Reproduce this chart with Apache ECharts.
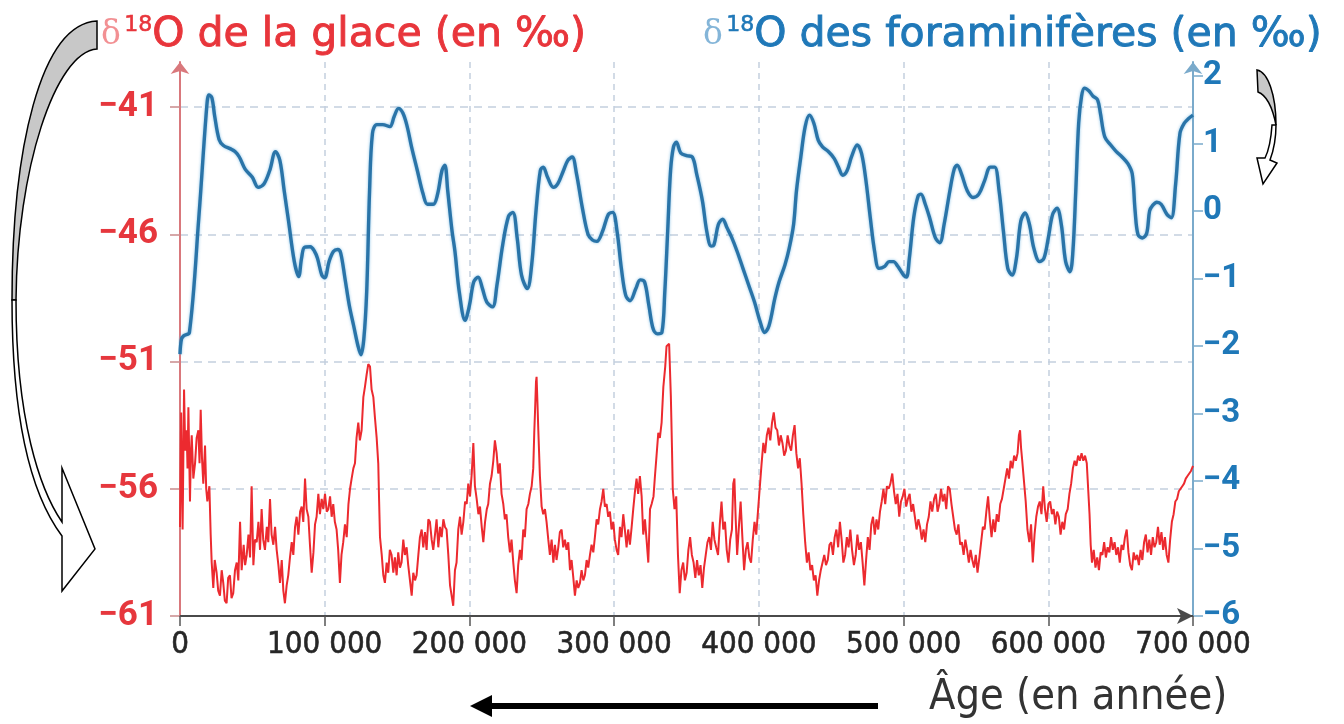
<!DOCTYPE html>
<html><head><meta charset="utf-8">
<script src="https://cdn.jsdelivr.net/npm/echarts@6/dist/echarts.min.js"></script>
<style>html,body{margin:0;padding:0;background:#fff}#c{width:1344px;height:724px}</style>
</head><body><div id="c"></div><script>
// ---- ticks ----
const ageTicks = [0, 100000, 200000, 300000, 400000, 500000, 600000, 700000];
const iceTicks = [-61, -56, -51, -46, -41];
const foramTicks = [-6, -5, -4, -3, -2, -1, 0, 1, 2];

// ---- δ18O of foraminifera (age in kyr, ‰) ----
const foramRecord = [[0,-2.12],[1,-1.9],[2.5,-1.85],[6.5,-1.8],[13,-0.1],[18.5,1.55],[20,1.72],[22,1.68],[24,1.4],[27,1.06],[30,0.97],[35,0.92],[38,0.88],[41,0.8],[45,0.62],[50,0.5],[54,0.35],[58,0.4],[62,0.6],[66,0.88],[69,0.75],[72,0.3],[75,-0.15],[79,-0.75],[82,-0.97],[84,-0.7],[86,-0.54],[90,-0.53],[93,-0.6],[95,-0.7],[98,-0.95],[100,-0.99],[103,-0.75],[106,-0.6],[109,-0.57],[111,-0.62],[114,-1.0],[117,-1.4],[120,-1.7],[123,-2.0],[125,-2.13],[127,-1.9],[129,-1.2],[131,0.3],[133,1.15],[136,1.28],[140,1.28],[145,1.25],[148,1.4],[151,1.52],[154,1.45],[157,1.25],[160,0.95],[164,0.6],[168,0.25],[171,0.1],[175,0.1],[178,0.25],[181,0.6],[183,0.68],[185,0.3],[188,-0.3],[190,-0.6],[193,-1.2],[197,-1.62],[200,-1.4],[203,-1.05],[206,-0.98],[209,-1.15],[212,-1.35],[216,-1.42],[219,-1.1],[223,-0.5],[227,-0.08],[230,-0.02],[233,-0.4],[236,-0.95],[240,-1.15],[243,-0.8],[246,0.0],[249,0.6],[251,0.65],[254,0.5],[258,0.35],[261,0.4],[265,0.6],[268,0.75],[271,0.8],[274,0.55],[278,0.05],[282,-0.35],[285,-0.43],[288,-0.45],[292,-0.3],[296,-0.05],[299,-0.02],[302,-0.3],[305,-0.85],[308,-1.25],[311,-1.33],[315,-1.15],[318,-1.02],[321,-1.05],[324,-1.4],[327,-1.75],[330,-1.82],[333,-1.8],[335,-1.2],[337,-0.3],[339,0.6],[341,0.95],[343,1.02],[346,0.86],[350,0.82],[354,0.8],[357,0.55],[361,0.15],[364,-0.3],[367,-0.52],[369,-0.5],[372,-0.2],[375,-0.12],[378,-0.25],[381,-0.38],[385,-0.6],[389,-0.85],[393,-1.1],[397,-1.35],[401,-1.65],[404,-1.8],[407,-1.7],[411,-1.3],[414,-1.05],[418,-0.8],[421,-0.55],[424,-0.2],[426,0.3],[429,0.8],[432,1.25],[435,1.42],[438,1.3],[441,1.05],[444,0.95],[448,0.88],[452,0.78],[455,0.65],[458,0.53],[461,0.6],[464,0.8],[468,0.98],[471,0.85],[474,0.45],[477,-0.1],[480,-0.6],[483,-0.85],[487,-0.82],[490,-0.75],[493,-0.75],[496,-0.82],[500,-0.95],[502,-0.98],[504,-0.7],[507,-0.1],[510,0.22],[512,0.25],[515,0.1],[518,-0.1],[522,-0.4],[525,-0.47],[528,-0.2],[532,0.3],[535,0.62],[537,0.68],[540,0.55],[544,0.3],[548,0.2],[552,0.25],[556,0.45],[560,0.65],[563,0.65],[566,0.3],[569,-0.3],[572,-0.85],[575,-0.95],[578,-0.7],[581,-0.15],[584,-0.03],[587,-0.2],[590,-0.55],[594,-0.75],[597,-0.7],[600,-0.4],[603,-0.05],[606,0.04],[609,-0.2],[612,-0.75],[615,-0.9],[617,-0.6],[619,0.3],[621,1.3],[623,1.7],[625,1.82],[628,1.78],[631,1.7],[634,1.65],[636,1.45],[639,1.1],[643,0.98],[647,0.88],[651,0.8],[655,0.7],[658,0.55],[660,0.0],[662,-0.35],[665,-0.4],[668,-0.33],[670,0.0],[672,0.08],[675,0.13],[678,0.1],[682,-0.05],[685,-0.1],[688,0.4],[691,1.15],[694,1.3],[697,1.37],[700,1.42]];

// ---- δ18O of ice (age in kyr, ‰) ----
const iceRecord = [[0,-57.5],[0.8,-53.0],[1.8,-57.6],[2.8,-52.1],[3.6,-54.5],[4.6,-53.7],[5.2,-55.2],[5.8,-52.8],[6.9,-56.5],[7.5,-54.6],[8.1,-53.9],[9.2,-55.6],[10.4,-55.0],[11.5,-54.0],[12.7,-53.7],[13.5,-55.0],[14.3,-52.9],[15.2,-54.8],[16.1,-55.8],[17.3,-54.3],[18.1,-56.0],[18.9,-56.5],[20.3,-55.9],[21.2,-57.8],[21.9,-58.9],[23.0,-59.9],[24.0,-58.8],[25.3,-59.3],[26.4,-60.0],[27.6,-60.2],[28.8,-59.2],[29.9,-59.7],[31.0,-60.4],[32.2,-60.5],[33.3,-59.5],[34.5,-59.4],[35.6,-60.3],[36.8,-60.1],[38.0,-59.2],[39.2,-58.9],[40.3,-59.6],[41.5,-57.3],[42.6,-59.2],[44.0,-58.2],[45.0,-59.0],[46.1,-58.6],[47.3,-57.8],[48.4,-58.7],[49.5,-55.9],[50.7,-59.0],[51.8,-58.0],[53.0,-58.1],[54.2,-57.3],[55.3,-58.4],[56.4,-56.8],[57.5,-58.0],[58.7,-58.4],[60.0,-57.5],[61.0,-58.1],[62.2,-56.4],[63.3,-57.8],[64.5,-58.2],[65.7,-57.5],[66.8,-58.4],[68.0,-59.0],[69.1,-59.7],[70.3,-58.8],[71.4,-60.0],[72.5,-60.5],[73.7,-59.8],[74.8,-59.4],[76.0,-58.7],[77.2,-58.1],[78.3,-58.6],[79.5,-57.5],[80.6,-57.1],[81.8,-57.8],[83.0,-56.9],[84.1,-56.7],[85.2,-57.3],[86.4,-55.6],[87.5,-56.8],[88.7,-57.1],[89.8,-58.2],[91.0,-59.3],[92.2,-58.5],[93.3,-57.4],[94.4,-57.1],[95.6,-56.2],[96.7,-57.0],[97.9,-56.4],[99.0,-56.8],[100.2,-56.2],[101.4,-56.9],[102.5,-56.8],[103.7,-56.3],[104.8,-57.1],[105.9,-56.6],[107.0,-57.3],[108.2,-57.6],[109.3,-58.4],[110.5,-59.7],[111.6,-58.6],[112.8,-58.1],[114.0,-57.4],[115.2,-57.9],[116.4,-56.6],[117.5,-56.0],[118.6,-55.6],[119.8,-55.2],[120.9,-55.0],[122.0,-54.0],[123.2,-53.4],[124.3,-54.1],[125.5,-53.7],[126.7,-52.4],[127.8,-52.0],[129.0,-51.5],[130.1,-51.1],[131.3,-51.2],[132.4,-52.1],[133.6,-52.4],[134.7,-53.2],[135.9,-54.0],[137.0,-55.0],[137.6,-56.5],[138.2,-57.9],[139.4,-58.6],[140.5,-59.4],[141.6,-59.7],[142.8,-58.9],[143.9,-59.3],[145.0,-58.4],[146.2,-58.6],[147.4,-59.3],[148.5,-58.7],[149.7,-59.4],[150.8,-58.5],[152.0,-59.1],[153.1,-58.9],[154.3,-58.0],[155.4,-58.6],[156.6,-58.3],[157.7,-59.0],[158.9,-59.6],[160.1,-60.2],[161.2,-59.3],[162.4,-59.6],[163.5,-59.4],[164.7,-58.6],[165.8,-57.9],[167.0,-57.6],[168.1,-58.3],[169.3,-57.7],[170.4,-58.4],[171.6,-57.2],[172.7,-57.3],[173.9,-58.0],[175.0,-58.4],[176.2,-57.8],[177.3,-57.2],[178.5,-58.3],[179.7,-57.5],[180.8,-57.9],[182.0,-57.2],[183.1,-57.5],[184.2,-57.6],[185.4,-58.6],[186.6,-59.8],[187.7,-60.2],[188.8,-60.6],[190.0,-59.2],[191.1,-58.9],[192.3,-57.6],[193.5,-57.1],[194.6,-57.8],[195.8,-57.3],[197.0,-56.5],[198.1,-56.6],[199.2,-55.8],[200.4,-56.3],[201.6,-55.4],[202.7,-54.2],[203.8,-55.9],[205.0,-56.4],[206.2,-57.0],[207.3,-56.7],[208.5,-57.5],[209.6,-58.1],[210.8,-57.3],[212.0,-56.8],[213.0,-56.6],[214.2,-55.8],[215.3,-55.5],[216.5,-54.9],[217.6,-54.1],[218.8,-54.6],[219.9,-55.4],[221.0,-55.0],[222.2,-56.2],[223.4,-56.6],[224.5,-57.2],[225.6,-57.0],[226.8,-57.9],[228.0,-58.5],[229.1,-58.0],[230.3,-58.9],[231.4,-59.6],[232.6,-60.1],[233.7,-59.0],[234.9,-58.4],[236.0,-58.8],[237.2,-57.6],[238.3,-57.9],[239.5,-56.8],[240.7,-56.6],[241.8,-56.2],[243.0,-55.9],[244.1,-55.2],[244.8,-53.8],[245.3,-53.0],[246.0,-51.8],[246.4,-51.6],[247.0,-52.6],[247.6,-53.7],[248.7,-55.5],[249.9,-56.7],[251.0,-57.0],[252.2,-56.8],[253.3,-57.3],[254.5,-58.0],[255.6,-58.6],[256.8,-58.0],[258.0,-58.9],[259.1,-58.2],[260.2,-58.8],[261.4,-58.3],[262.5,-57.7],[263.7,-57.6],[264.8,-58.3],[266.0,-58.0],[267.1,-58.4],[268.3,-58.1],[269.5,-59.2],[270.6,-58.8],[271.8,-59.5],[272.9,-60.2],[274.1,-59.6],[275.2,-59.9],[276.4,-59.7],[277.5,-59.2],[278.7,-59.6],[279.8,-59.4],[281.0,-58.8],[282.1,-59.1],[283.3,-58.6],[284.4,-58.2],[285.6,-58.5],[286.7,-57.9],[287.9,-57.2],[289.0,-57.4],[290.2,-56.8],[291.3,-56.5],[292.5,-56.0],[293.6,-56.7],[294.8,-56.6],[295.9,-57.1],[297.1,-56.9],[298.2,-57.6],[299.4,-57.3],[300.5,-58.0],[301.7,-58.4],[302.8,-58.6],[304.0,-57.5],[305.1,-57.9],[306.3,-57.0],[307.4,-57.6],[308.6,-58.3],[309.7,-57.6],[310.9,-58.2],[312.1,-57.5],[313.2,-56.8],[314.4,-56.1],[315.5,-55.6],[316.6,-56.2],[317.8,-55.5],[319.0,-56.3],[320.1,-57.8],[321.3,-57.2],[322.4,-58.0],[323.6,-58.9],[324.8,-56.8],[325.9,-56.6],[327.2,-56.3],[328.2,-55.5],[329.3,-54.7],[330.5,-53.8],[331.6,-54.0],[332.8,-53.4],[334.0,-52.0],[335.3,-51.2],[336.2,-50.4],[338.0,-50.3],[339.2,-52.4],[340.0,-54.5],[340.5,-56.0],[341.7,-56.8],[342.9,-56.3],[344.1,-58.6],[345.3,-60.1],[346.5,-59.2],[347.7,-58.9],[348.9,-59.6],[350.1,-59.3],[351.3,-58.4],[352.5,-57.9],[353.7,-58.6],[354.9,-58.9],[356.1,-59.5],[357.3,-58.8],[358.5,-59.4],[359.7,-59.0],[360.9,-59.9],[362.1,-59.1],[363.3,-58.6],[364.5,-58.1],[365.7,-57.9],[366.9,-58.4],[368.1,-57.3],[369.3,-58.0],[370.5,-58.3],[371.8,-58.6],[373.0,-57.4],[374.2,-56.5],[375.4,-57.6],[376.6,-57.3],[377.8,-58.4],[379.0,-58.9],[380.2,-58.0],[381.4,-57.6],[382.3,-55.8],[383.1,-55.6],[384.0,-57.2],[385.0,-58.6],[386.2,-57.5],[387.4,-56.5],[388.6,-57.9],[389.8,-59.2],[391.0,-58.4],[392.2,-58.1],[393.4,-58.7],[394.6,-58.9],[395.8,-58.0],[397.0,-57.3],[398.2,-57.8],[399.5,-56.8],[400.7,-55.9],[401.9,-55.0],[403.1,-54.2],[404.3,-54.6],[405.5,-53.9],[406.7,-53.6],[407.9,-54.1],[409.1,-53.4],[410.3,-53.0],[411.5,-53.6],[412.7,-53.7],[413.9,-54.3],[415.1,-53.9],[416.3,-54.2],[417.5,-54.7],[418.7,-54.5],[419.9,-53.9],[421.1,-54.3],[422.3,-54.5],[423.5,-53.9],[424.7,-53.5],[425.9,-54.6],[427.1,-55.2],[428.3,-54.8],[429.5,-55.8],[430.7,-57.0],[432.0,-58.1],[433.2,-58.9],[434.4,-58.5],[435.6,-59.2],[436.8,-59.0],[438.0,-59.6],[439.2,-59.4],[440.4,-60.2],[441.6,-59.6],[442.8,-59.2],[444.0,-59.2],[445.2,-58.6],[446.4,-59.0],[447.6,-58.8],[448.8,-58.2],[450.0,-58.1],[451.2,-58.6],[452.4,-57.9],[453.6,-57.6],[454.8,-58.3],[456.0,-57.3],[457.2,-58.0],[458.4,-58.9],[459.6,-58.6],[460.8,-57.9],[462.0,-58.3],[463.2,-57.6],[464.4,-58.4],[465.7,-59.0],[466.9,-58.6],[468.1,-57.8],[469.3,-58.4],[470.5,-58.1],[471.7,-58.9],[472.9,-59.8],[474.1,-58.8],[475.3,-57.9],[476.5,-58.4],[477.7,-57.4],[478.9,-57.1],[480.1,-57.8],[481.3,-57.2],[482.5,-57.6],[483.7,-56.9],[484.9,-56.5],[486.1,-56.0],[487.3,-56.6],[488.5,-55.9],[489.7,-56.0],[490.9,-55.8],[492.2,-55.4],[493.4,-56.1],[494.6,-56.6],[495.8,-56.2],[497.0,-57.1],[498.2,-56.5],[499.4,-56.3],[500.6,-56.0],[501.8,-56.7],[503.0,-56.4],[504.2,-56.2],[505.4,-56.9],[506.6,-56.6],[507.8,-57.1],[509.0,-57.6],[510.2,-57.2],[511.4,-57.5],[512.6,-58.0],[513.8,-57.6],[515.0,-58.1],[516.2,-57.4],[517.4,-57.1],[518.6,-56.5],[519.8,-56.9],[521.1,-56.4],[522.3,-56.2],[523.5,-56.9],[524.7,-56.6],[525.9,-56.0],[527.1,-56.5],[528.3,-56.2],[529.5,-56.8],[530.7,-55.9],[531.9,-56.0],[533.1,-56.6],[534.3,-57.1],[535.5,-57.6],[536.7,-57.8],[537.9,-57.4],[539.1,-58.2],[540.3,-58.1],[541.5,-58.6],[542.7,-58.0],[543.9,-58.4],[545.1,-58.9],[546.3,-58.4],[547.5,-58.8],[548.7,-59.1],[549.9,-58.6],[551.1,-59.3],[552.4,-58.7],[553.6,-58.1],[554.8,-57.5],[556.0,-57.6],[557.2,-56.9],[558.4,-56.3],[559.6,-57.2],[560.8,-57.9],[562.0,-57.2],[563.2,-57.7],[564.4,-57.0],[565.6,-57.3],[566.8,-56.6],[568.0,-56.4],[569.2,-56.0],[570.4,-55.6],[571.6,-55.2],[572.8,-55.6],[574.0,-54.9],[575.2,-55.2],[576.4,-54.7],[577.6,-54.9],[578.8,-54.6],[579.7,-53.9],[580.5,-53.7],[581.2,-54.4],[582.0,-54.9],[583.2,-55.7],[584.4,-56.5],[585.6,-57.6],[586.9,-58.1],[588.1,-57.4],[589.3,-58.9],[590.5,-57.8],[591.7,-57.1],[592.9,-56.7],[594.1,-56.5],[595.3,-57.0],[596.5,-55.9],[597.7,-56.8],[598.9,-57.3],[600.1,-56.6],[601.3,-56.5],[602.5,-57.0],[603.7,-56.8],[604.9,-57.4],[606.1,-56.9],[607.3,-57.1],[608.5,-57.8],[609.7,-57.3],[610.9,-57.6],[612.1,-57.0],[613.4,-56.8],[614.6,-56.2],[615.8,-55.8],[617.0,-55.2],[618.2,-54.9],[619.4,-55.1],[620.6,-54.7],[621.8,-54.9],[623.0,-54.6],[624.2,-54.9],[625.4,-54.7],[626.6,-55.0],[627.8,-55.0],[628.5,-57.0],[629.3,-58.2],[630.2,-58.9],[631.4,-58.4],[632.6,-59.1],[633.8,-58.7],[635.0,-59.2],[636.2,-58.5],[637.4,-58.6],[638.6,-58.1],[639.8,-58.7],[641.0,-58.3],[642.2,-58.5],[643.4,-57.9],[644.6,-58.4],[645.8,-58.1],[647.0,-58.6],[648.2,-58.3],[649.4,-58.9],[650.6,-58.2],[651.8,-58.4],[653.0,-57.9],[654.2,-57.6],[655.4,-58.5],[656.6,-59.0],[657.8,-59.2],[659.0,-58.5],[660.2,-58.8],[661.4,-58.6],[662.6,-59.0],[663.8,-58.4],[665.0,-58.8],[666.2,-58.1],[667.4,-57.8],[668.6,-58.5],[669.8,-58.0],[671.0,-58.6],[672.2,-57.9],[673.4,-58.3],[674.6,-58.1],[675.8,-57.5],[677.0,-58.2],[678.2,-57.7],[679.4,-58.4],[680.6,-57.9],[681.8,-58.6],[683.0,-58.9],[684.2,-58.0],[685.4,-57.3],[686.6,-57.0],[687.8,-56.5],[689.0,-56.4],[690.2,-56.1],[691.4,-56.0],[692.6,-55.9],[693.8,-55.8],[695.0,-55.6],[696.2,-55.5],[697.4,-55.4],[698.6,-55.3],[700.0,-55.1]];

// ---- texts ----
const iceTitle = 'O de la glace (en ‰)';
const foramTitle = 'O des foraminifères (en ‰)';
const ageTitle = 'Âge (en année)';

const narrowFont = '"DejaVu Sans Condensed", sans-serif';
const fmtSigned = v => String(v).replace('-', '\u2212');
const fmtAge = v => v === 0 ? '0' : (v / 1000) + ' 000';
const toYears = rec => rec.map(([a, v]) => [a * 1000, v]);

// decorative curved arrows (annotations, not data)
const G = echarts.graphic;
G.registerShape('arrowLeftBack', G.extendPath('M97,21 C40,24 12,150 12,300 L16,300 C17,170 55,52 97,49 Z'));
G.registerShape('arrowLeftFront', G.extendPath('M12,300 C12,430 35,500 62,536 L62,591 L95,549 L62,468 L62,522 C40,490 16,420 16,300 Z'));
G.registerShape('arrowRightBack', G.extendPath('M1257,70 C1268,72 1276,95 1276,125 C1272,105 1266,95 1258,92 Z'));
G.registerShape('arrowRightFront', G.extendPath('M1276,125 C1276,140 1273,152 1270,160 L1277,163 L1263,184 L1257,158 L1265,158 C1269,150 1271,140 1272,125 Z'));

const titleRich = (color) => ({
  d: { fontFamily: 'DejaVu Serif', fontSize: 33, fill: color, opacity: 0.55 },
  s: { fontFamily: 'DejaVu Sans', fontSize: 22, fill: color, stroke: color, lineWidth: 0.6, verticalAlign: 'top' },
  t: { fontFamily: 'DejaVu Sans', fontSize: 41, fill: color, stroke: color, lineWidth: 0.9 }
});

const chart = echarts.init(document.getElementById('c'));
chart.setOption({
  animation: false,
  backgroundColor: '#fff',
  grid: { left: 180, right: 151, top: 62, bottom: 108 },
  xAxis: {
    type: 'value', min: 0, max: 700000, interval: 100000,
    axisLine: { show: true, onZero: false, lineStyle: { color: '#4a4a4a', width: 2 }, symbol: ['none', 'arrow'], symbolSize: [12, 16] },
    axisTick: { show: true, length: 10, lineStyle: { color: '#555', width: 1.5 } },
    axisLabel: { formatter: fmtAge, color: '#262626', fontSize: 31, fontFamily: narrowFont, margin: 13, textBorderColor: '#262626', textBorderWidth: 0.6 },
    splitLine: { show: true, lineStyle: { type: [6, 5], color: '#c3d0de', width: 1.5 } }
  },
  yAxis: [
    {
      type: 'value', position: 'left', min: -61, max: -39.23,
      axisLine: { show: true, onZero: false, lineStyle: { color: '#d9787c', width: 2 }, symbol: ['none', 'arrow'], symbolSize: [14, 12] },
      axisTick: { show: true, customValues: iceTicks, length: 10, lineStyle: { color: '#c98a8c', width: 1.5 } },
      axisLabel: { customValues: iceTicks, formatter: fmtSigned, color: '#e6373d', fontSize: 35, fontWeight: 'bold', fontFamily: 'Roboto', margin: 22 },
      splitLine: { show: true, lineStyle: { type: [8, 6], color: '#c3d0de', width: 1.5 } }
    },
    {
      type: 'value', position: 'right', min: -6, max: 2.207,
      axisLine: { show: true, onZero: false, lineStyle: { color: '#7aaacb', width: 2 }, symbol: ['none', 'arrow'], symbolSize: [14, 12] },
      axisTick: { show: true, customValues: foramTicks, length: 10, lineStyle: { color: '#7aaacb', width: 1.5 } },
      axisLabel: { customValues: foramTicks, formatter: fmtSigned, color: '#1f78b8', fontSize: 33, fontWeight: 'bold', fontFamily: 'Roboto', margin: 10 },
      splitLine: { show: false }
    }
  ],
  series: [
    {
      type: 'line', name: 'glace', yAxisIndex: 0, data: toYears(iceRecord),
      symbol: 'none', lineStyle: { color: '#ec2a2f', width: 2 }, z: 3
    },
    {
      type: 'line', name: 'foraminifères', yAxisIndex: 1, data: toYears(foramRecord),
      symbol: 'none', smooth: 0.35,
      lineStyle: { color: '#2a74a8', width: 3.4, shadowColor: 'rgba(110,180,225,0.8)', shadowBlur: 3 }, z: 4
    }
  ],
  graphic: [
    { type: 'text', left: 101, top: 14, style: { text: '{d|δ} {s|18}{t|' + iceTitle + '}', rich: titleRich('#e8353b') } },
    { type: 'text', left: 703, top: 14, style: { text: '{d|δ} {s|18}{t|' + foramTitle + '}', rich: titleRich('#1f78b8') } },
    { type: 'text', left: 929, top: 676, style: { text: ageTitle, font: '43px ' + narrowFont, fill: '#333' } },
    { type: 'line', shape: { x1: 878, y1: 706, x2: 488, y2: 706 }, style: { stroke: '#000', lineWidth: 6 } },
    { type: 'polygon', shape: { points: [[470, 706], [492, 695], [492, 717]] }, style: { fill: '#000' } },
    { type: 'arrowLeftBack', style: { fill: '#c8c8c8', stroke: '#000', lineWidth: 1.5 } },
    { type: 'arrowLeftFront', style: { fill: '#fff', stroke: '#000', lineWidth: 1.5 } },
    { type: 'arrowRightBack', style: { fill: '#c8c8c8', stroke: '#000', lineWidth: 1.5 } },
    { type: 'arrowRightFront', style: { fill: '#fff', stroke: '#000', lineWidth: 1.5 } }
  ]
});
</script></body></html>
